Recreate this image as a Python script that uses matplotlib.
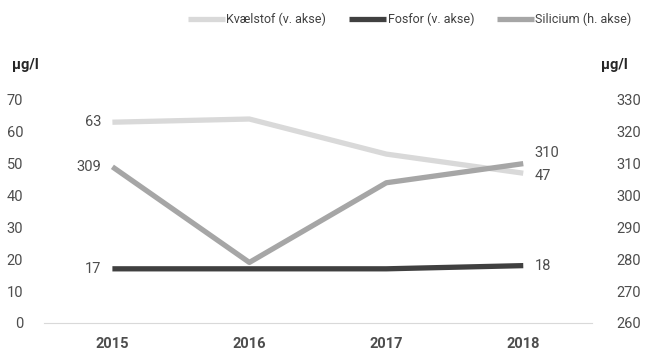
import matplotlib.pyplot as plt

plt.rcParams['font.family'] = ['Roboto', 'DejaVu Sans']

# data
years = ['2015', '2016', '2017', '2018']
kvaelstof = [63, 64, 53, 47]
fosfor = [17, 17, 17, 18]
silicium = [309, 279, 304, 310]

c_kv = '#d9d9d9'
c_fo = '#404040'
c_si = '#a6a6a6'
c_txt = '#4d4d4d'

fig = plt.figure(figsize=(6.46, 3.53), dpi=100)
ax = fig.add_axes([0.068, 0.085, 0.848, 0.632])
ax2 = ax.twinx()

x = range(len(years))
l1, = ax.plot(x, kvaelstof, color=c_kv, lw=3.8, label='Kvælstof (v. akse)', solid_capstyle='butt')
l2, = ax.plot(x, fosfor, color=c_fo, lw=3.8, label='Fosfor (v. akse)', solid_capstyle='butt')
l3, = ax2.plot(x, silicium, color=c_si, lw=3.8, label='Silicium (h. akse)', solid_capstyle='butt')

ax.set_xlim(-0.5, 3.5)
ax.set_ylim(0, 70)
ax2.set_ylim(260, 330)
ax.set_yticks(range(0, 71, 10))
ax2.set_yticks(range(260, 331, 10))
ax.set_xticks(list(x))
ax.set_xticklabels(years, fontweight='bold', fontsize=10, color='#262626')

for a in (ax, ax2):
    for s in a.spines.values():
        s.set_visible(False)
    a.tick_params(length=0, labelsize=10.5, labelcolor=c_txt)
ax.spines['bottom'].set_visible(True)
ax.spines['bottom'].set_color('#d9d9d9')
ax.tick_params(axis='y', pad=15)
ax2.tick_params(axis='y', pad=18)
ax.tick_params(axis='x', pad=10)

lab = dict(textcoords='offset points', va='center', fontsize=10.5, color=c_txt)
# data labels
ax.annotate(str(kvaelstof[0]), (0, kvaelstof[0]), xytext=(-8, 0), ha='right', **lab)
ax.annotate(str(fosfor[0]), (0, fosfor[0]), xytext=(-8, 0), ha='right', **lab)
ax2.annotate(str(silicium[0]), (0, silicium[0]), xytext=(-8, 0), ha='right', **lab)
ax.annotate(str(kvaelstof[3]), (3, kvaelstof[3]), xytext=(8, -2), ha='left', **lab)
ax.annotate(str(fosfor[3]), (3, fosfor[3]), xytext=(8, 0), ha='left', **lab)
ax2.annotate(str(silicium[3]), (3, silicium[3]), xytext=(8, 8), ha='left', **lab)

fig.text(0.018, 0.815, 'µg/l', fontsize=10.5, fontweight='bold', color='#262626', va='center')
fig.text(0.93, 0.815, 'µg/l', fontsize=10.5, fontweight='bold', color='#262626', va='center')

fig.legend(handles=[l1, l2, l3], loc='center right', bbox_to_anchor=(0.995, 0.945), ncol=3,
           frameon=False, fontsize=9, handlelength=3, handletextpad=0.1, columnspacing=1.8,
           labelcolor='#404040')

fig.savefig('out.png', dpi=100)
